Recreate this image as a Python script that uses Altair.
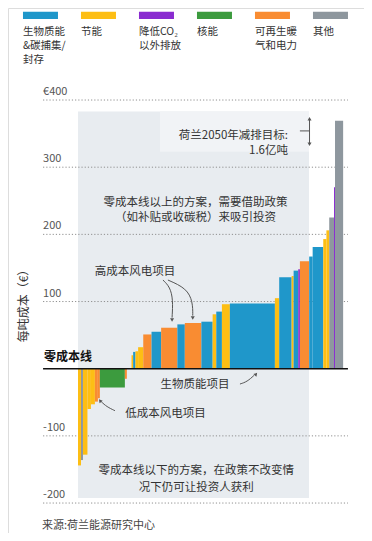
import altair as alt
import pandas as pd

FONT = "Noto Sans CJK SC"

# ---- categories / legend ----
cat_keys = ["bio", "eff", "nonco2", "nuclear", "renew", "other"]
cat_labels = ["生物质能\n&碳捕集/\n封存", "节能", "降低CO₂\n以外排放", "核能", "可再生暖\n气和电力", "其他"]
cat_colors = ["#1F97CA", "#FDBE14", "#8A2BD0", "#3C9B3E", "#F98C32", "#8E979E"]

# ---- MAC curve: width (Mt CO2) and cost (EUR/t) of each option ----
widths = [1.8, 1.2, 2.7, 2.1, 2.4, 1.8, 1.2, 15.1, 1.2, 2.8,
          1.0, 1.4, 1.6, 3.1, 5.0, 5.8, 9.8, 4.5, 10.0, 6.8,
          2.2, 3.4, 4.8, 27.2, 2.6, 7.5, 1.2, 2.8, 1.0, 5.6,
          2.1, 6.4, 1.9, 1.7, 2.9, 0.6, 4.9]
values = [-144, -136, -128, -60, -53, -49, -44, -28, -15, 0,
          20, 25, 26, 32, 51, 55, 61, 66, 68, 70,
          81, 85, 96, 97, 105, 136, 138, 146, 148, 160,
          167, 181, 193, 206, 225, 270, 369]
bar_cats = ["eff", "other", "eff", "eff", "eff", "renew", "renew", "nuclear", "renew", "eff",
            "eff", "bio", "eff", "eff", "renew", "bio", "renew", "bio", "renew", "bio",
            "eff", "bio", "eff", "bio", "eff", "bio", "eff", "bio", "nonco2", "renew",
            "bio", "bio", "eff", "eff", "other", "nonco2", "other"]

grid_values = [400, 300, 200, 100, -100, -200]
grid_labels = ["€400", "300", "200", "100", "-100", "-200"]

df = pd.DataFrame({"w": widths, "v": values, "c": bar_cats})
df["x1"] = df["w"].cumsum()
df["x0"] = df["x1"] - df["w"]

XS = alt.Scale(domain=[-42.27, 172.7], nice=False, zero=False)
YS = alt.Scale(domain=[-244.6, 537.0], nice=False, zero=False)
LS = alt.Scale(domain=[-0.560, 5.578], nice=False, zero=False)
CS = alt.Scale(domain=cat_keys, range=cat_colors)


def X(f):
    return alt.X(f, type="quantitative", scale=XS, axis=None)


def Y(f):
    return alt.Y(f, type="quantitative", scale=YS, axis=None)


GRID_X0, GRID_X1 = -21.1, 163.0

# background panel
panel = alt.Chart(pd.DataFrame({"a": [0.0], "b": [139.5], "lo": [-192.5], "hi": [383.0]})).mark_rect(
    color="#E8ECF0").encode(x=X("a"), x2="b", y=Y("lo"), y2="hi")
panel_light = alt.Chart(pd.DataFrame({"a": [49.5], "b": [139.5], "lo": [323.0], "hi": [383.0]})).mark_rect(
    color="#F1F3F6").encode(x=X("a"), x2="b", y=Y("lo"), y2="hi")

gdf = pd.DataFrame({"v": grid_values, "lab": grid_labels, "a": GRID_X0, "b": GRID_X1})
grid = alt.Chart(gdf).mark_rule(color="#8f8f8f", strokeDash=[1.2, 2], strokeWidth=1).encode(
    x=X("a"), x2="b", y=Y("v"))
grid_text = alt.Chart(gdf).mark_text(align="left", baseline="bottom", dy=-3, fontSize=11,
                                     font=FONT, color="#555").encode(x=X("a"), y=Y("v"), text="lab:N")

bars = alt.Chart(df).mark_rect().encode(
    x=X("x0"), x2="x1", y=Y("v"), y2=alt.datum(0),
    color=alt.Color("c:N", scale=CS, legend=None))

zero = alt.Chart(pd.DataFrame({"a": [GRID_X0], "b": [GRID_X1], "v": [0]})).mark_rule(
    color="#111", strokeWidth=1.6).encode(x=X("a"), x2="b", y=Y("v"))


def txt(t, x, y, **kw):
    base = dict(font=FONT, fontSize=11.5, color="#333", baseline="middle")
    base.update(kw)
    return alt.Chart(pd.DataFrame({"t": [t], "x": [x], "y": [y]})).mark_text(**base).encode(
        x=X("x"), y=Y("y"), text="t:N")


texts = [
    txt("零成本线", -20.5, 16.7, align="left", fontWeight="bold", fontSize=12, color="#111"),
    txt("每吨成本（€）", -32.6, 97.8, align="center", angle=270, fontSize=12),
    txt("荷兰2050年减排目标:\n1.6亿吨", 126.8, 345.7, align="right", lineBreak="\n", lineHeight=14.5),
    txt("零成本线以上的方案，需要借助政策\n（如补贴或收碳税）来吸引投资", 70.9, 247.0, align="center",
        lineBreak="\n", lineHeight=15.5),
    txt("高成本风电项目", 34.4, 144.0, align="center"),
    txt("生物质能项目", 70.7, -24.3, align="center"),
    txt("低成本风电项目", 52.8, -67.4, align="center"),
    txt("零成本线以下的方案，在政策不改变情\n况下仍可让投资人获利", 71.4, -153.0, align="center",
        lineBreak="\n", lineHeight=17),
    txt("来源:荷兰能源研究中心", -21.7, -234.2, align="left", fontSize=11, color="#444"),
]


def path(xs, ys, interp="basis"):
    return alt.Chart(pd.DataFrame({"x": xs, "y": ys, "o": list(range(len(xs)))})).mark_line(
        color="#555", strokeWidth=1, interpolate=interp).encode(x=X("x"), y=Y("y"), order="o:Q")


def head(x, y, shape, angle=0):
    kw = dict(shape=shape, filled=True, size=16, color="#555", opacity=1)
    if angle:
        kw["angle"] = angle
    return alt.Chart(pd.DataFrame({"x": [x], "y": [y]})).mark_point(**kw).encode(x=X("x"), y=Y("y"))


arrows = [
    path([139.8, 139.8], [371, 335], "linear"),
    path([134.0, 139.8], [354, 354], "linear"),
    head(139.8, 372, "triangle-up"),
    head(139.8, 334, "triangle-down"),
    path([51.3, 55.6, 57.4, 56.8], [132.0, 121.6, 102.3, 76.0]),
    head(56.8, 72.5, "triangle-down"),
    path([54.3, 65.6, 69.3, 69.3], [132.0, 119.7, 99.7, 79.0]),
    head(69.3, 75.5, "triangle-down"),
    path([97.8, 102.1, 106.5], [-22.8, -19.4, -9.5]),
    head(107.5, -8.0, "triangle-up", 40),
    path([22.3, 17.3, 14.0], [-62.5, -56.6, -49.0]),
    head(13.3, -47.6, "triangle-up", 320),
]

leg = pd.DataFrame({"i": list(range(6)), "c": cat_keys, "lab": cat_labels})
legend_rect = alt.Chart(leg).transform_calculate(
    a="datum.i - 0.3017", b="datum.i + 0.3017").mark_rect().encode(
    x=alt.X("a:Q", scale=LS, axis=None), x2="b:Q",
    y=alt.value(3.7), y2=alt.value(11),
    color=alt.Color("c:N", scale=CS, legend=None))
legend_text = alt.Chart(leg).mark_text(
    align="left", baseline="top", lineBreak="\n", lineHeight=14, fontSize=10.5,
    dx=-17.5, font=FONT, color="#333").encode(
    x=alt.X("i:Q", scale=LS, axis=None), y=alt.value(18.5), text="lab:N")

chart = alt.layer(
    panel, panel_light, grid, bars, zero, grid_text, *texts, *arrows, legend_rect, legend_text
).resolve_scale(x="independent", y="independent").properties(
    width=356, height=525, padding=0,
    autosize=alt.AutoSizeParams(type="none"),
).configure_view(stroke="#A0A0A0", strokeWidth=1).configure(background="white")

chart.save("out.html", embed_options={"renderer": "svg", "actions": False})
